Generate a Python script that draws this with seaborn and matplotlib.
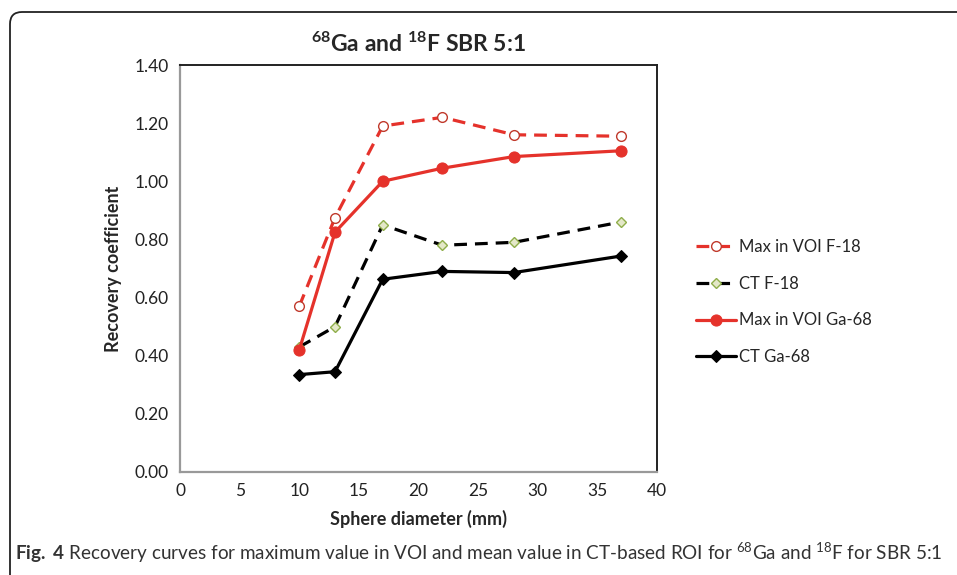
import seaborn as sns
import matplotlib.pyplot as plt
import matplotlib.patches as mpatches
import pandas as pd
import numpy as np

# Sphere diameters (mm)
diameters = [10, 13, 17, 22, 28, 37]

# Recovery coefficients
max_voi_f18 = [0.57, 0.875, 1.19, 1.22, 1.16, 1.155]
ct_f18 = [0.43, 0.50, 0.85, 0.78, 0.79, 0.86]
max_voi_ga68 = [0.42, 0.825, 1.00, 1.045, 1.085, 1.105]
ct_ga68 = [0.335, 0.345, 0.663, 0.69, 0.686, 0.743]

series_names = ["Max in VOI F-18", "CT F-18", "Max in VOI Ga-68", "CT Ga-68"]
yticks = [0.0, 0.2, 0.4, 0.6, 0.8, 1.0, 1.2, 1.4]
xticks = [0, 5, 10, 15, 20, 25, 30, 35, 40]

sns.set_style("white")
plt.rcParams.update({
    "font.family": ["Lato", "DejaVu Sans"],
    "mathtext.fontset": "custom",
    "mathtext.rm": "Lato",
    "mathtext.bf": "Lato:bold",
    "mathtext.it": "Lato:italic",
    "mathtext.default": "regular",
})

red = "#e5322b"
styles = {
    "Max in VOI F-18": dict(color=red, linestyle=(0, (4, 2.5)), marker="o", markersize=7,
                            markerfacecolor="white", markeredgecolor="#c0392b", markeredgewidth=1.0),
    "CT F-18": dict(color="black", linestyle=(0, (4, 2.5)), marker="D", markersize=5,
                    markerfacecolor="#e4e8c8", markeredgecolor="#8fae4a", markeredgewidth=1.0),
    "Max in VOI Ga-68": dict(color=red, linestyle="-", marker="o", markersize=8,
                             markerfacecolor=red, markeredgecolor=red),
    "CT Ga-68": dict(color="black", linestyle="-", marker="D", markersize=6,
                     markerfacecolor="black", markeredgecolor="black"),
}

df = pd.DataFrame({
    "diameter": diameters * 4,
    "rc": max_voi_f18 + ct_f18 + max_voi_ga68 + ct_ga68,
    "series": np.repeat(series_names, len(diameters)),
})

fig = plt.figure(figsize=(9.57, 5.75), dpi=100)
ax = fig.add_axes([180 / 957, 1 - 472 / 575, 477 / 957, 407 / 575])

for name in series_names:
    sub = df[df["series"] == name]
    sns.lineplot(data=sub, x="diameter", y="rc", ax=ax, label=name,
                 linewidth=2.3, **styles[name])

ax.set_xlim(0, 40)
ax.set_ylim(0, 1.4)
ax.set_xticks(xticks)
ax.set_yticks(yticks)
ax.set_yticklabels([f"{v:.2f}" for v in yticks])
ax.tick_params(length=0, labelsize=12.5, pad=8, colors="#222222")
ax.set_xlabel("Sphere diameter (mm)", fontsize=13, fontweight="bold", labelpad=8)
ax.set_ylabel("Recovery coefficient", fontsize=13, fontweight="bold", labelpad=9)
ax.set_title(r"$^{68}$Ga and $^{18}$F SBR 5:1", fontsize=16.5, fontweight="bold", pad=9)

for side in ["left", "bottom"]:
    ax.spines[side].set_color("#999999")
    ax.spines[side].set_linewidth(1.6)
for side in ["top", "right"]:
    ax.spines[side].set_color("#222222")
    ax.spines[side].set_linewidth(1.4)

fig.legend(*ax.get_legend_handles_labels(), loc="center left",
           bbox_to_anchor=(681 / 957, 1 - 302 / 575), frameon=False,
           fontsize=12, labelspacing=1.25, handlelength=2.4, handletextpad=0.2)
ax.get_legend().remove()

# rounded frame around the figure panel
frame = mpatches.FancyBboxPatch((0.10, -0.5), 10.0, 6.13, boxstyle="round,pad=0,rounding_size=0.12",
                                transform=fig.dpi_scale_trans, facecolor="none",
                                edgecolor="#222222", linewidth=1.3, clip_on=False)
fig.add_artist(frame)

fig.text(15 / 957, 1 - 553 / 575,
         r"$\mathbf{Fig.\ 4}$ Recovery curves for maximum value in VOI and mean value in CT-based ROI for $^{68}$Ga and $^{18}$F for SBR 5:1",
         fontsize=13.6, color="#333333", va="center", ha="left")

plt.savefig("out.png", dpi=100)
